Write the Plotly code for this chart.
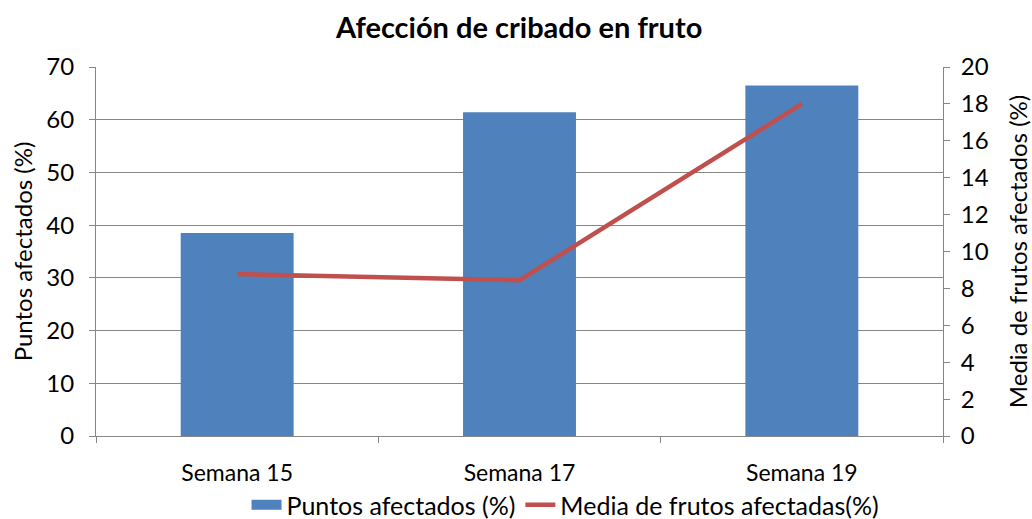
import plotly.graph_objects as go

categories = ["Semana 15", "Semana 17", "Semana 19"]
puntos_afectados = [38.5, 61.4, 66.5]
media_frutos = [8.78, 8.44, 18.0]

FONT = "Lato"
BLUE = "#4F81BD"
RED = "#C0504D"
GRID = "#868686"
fig = go.Figure()
fig.add_trace(go.Bar(
    x=categories, y=puntos_afectados, name="Puntos afectados (%)",
    marker=dict(color=BLUE, line=dict(color=BLUE, width=0)),
    width=0.4, yaxis="y", showlegend=False,
))
# legend-only entry so the bar swatch is a wide rectangle
fig.add_trace(go.Scatter(
    x=[None], y=[None], name="Puntos afectados (%)", mode="lines",
    line=dict(color=BLUE, width=16), yaxis="y", showlegend=True,
))
fig.add_trace(go.Scatter(
    x=categories, y=media_frutos, name="Media de frutos afectadas(%)",
    mode="lines", line=dict(color=RED, width=4.5), yaxis="y2",
))

fig.update_layout(
    width=1032, height=519,
    paper_bgcolor="white", plot_bgcolor="white",
    margin=dict(l=96, r=89, t=67, b=83),
    font=dict(family=FONT, size=24, color="black"),
    title=dict(text="<b>Afección de cribado en fruto</b>", x=0.503, xanchor="center",
               y=1 - 28 / 519, yref="container", yanchor="middle",
               font=dict(family=FONT, size=29, color="black")),
    showlegend=True,
    legend=dict(orientation="h", x=0.548, xanchor="center", xref="container",
                y=14 / 519, yref="container", yanchor="middle",
                font=dict(family=FONT, size=25), tracegroupgap=0,
                traceorder="normal", itemsizing="trace"),
    bargap=0.6,
    xaxis=dict(
        type="category", showline=True, linecolor=GRID, linewidth=1,
        ticks="outside", tickson="boundaries", ticklen=6, tickcolor=GRID,
        showgrid=False, tickfont=dict(family=FONT, size=23), automargin=False,
        ticklabelstandoff=16,
    ),
    yaxis=dict(
        range=[0, 70], dtick=10, showline=True, linecolor=GRID, linewidth=1,
        ticks="outside", ticklen=6, tickcolor=GRID,
        showgrid=True, gridcolor=GRID, gridwidth=1,
        zeroline=False, tickfont=dict(family=FONT, size=24), automargin=False,
        ticklabelstandoff=10,
        title=dict(text="Puntos afectados (%)", font=dict(family=FONT, size=24), standoff=6),
    ),
    yaxis2=dict(
        range=[0, 20], dtick=2, overlaying="y", side="right",
        showline=True, linecolor=GRID, linewidth=1,
        ticks="outside", ticklen=6, tickcolor=GRID,
        showgrid=False, zeroline=False, tickfont=dict(family=FONT, size=24),
        automargin=False, ticklabelstandoff=6,
        title=dict(text="Media de frutos afectados (%)", font=dict(family=FONT, size=24), standoff=22),
    ),
)

fig.write_html("out.html", post_script="document.body.style.margin='0';",
               config={"displayModeBar": False})
